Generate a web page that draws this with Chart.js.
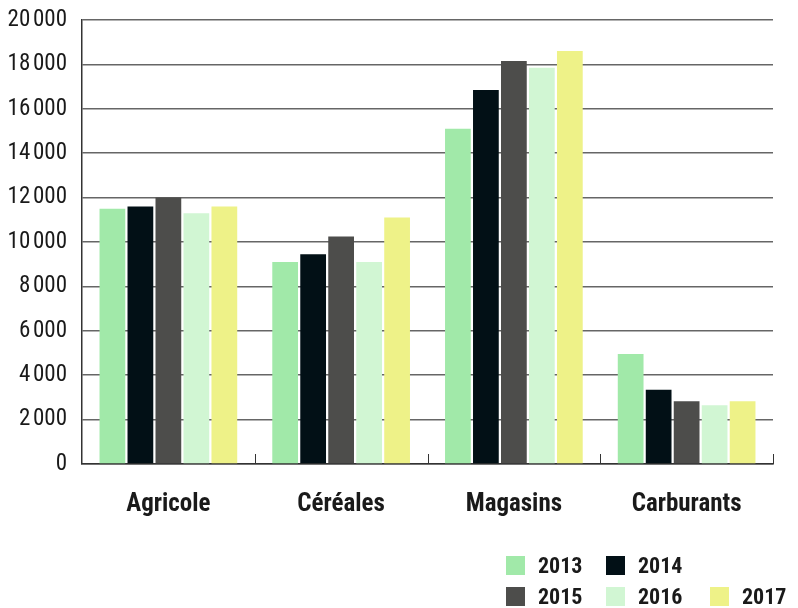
<!DOCTYPE html>
<html>
<head>
<meta charset="utf-8">
<script src="https://cdn.jsdelivr.net/npm/chart.js@4/dist/chart.umd.min.js"></script>
<style>
  html, body { margin: 0; padding: 0; background: #fff; }
  #wrap { position: relative; width: 798px; height: 608px; }
  #legend { position: absolute; left: 506px; top: 556px; width: 292px;
    font-family: "Roboto Condensed", "Liberation Sans Narrow", "DejaVu Sans Condensed", Roboto, sans-serif;
    font-weight: bold; font-size: 22px; color: #1a1a1a; }
  #legend .item { position: absolute; height: 20px; line-height: 20px; white-space: nowrap; }
  #legend .box { display: inline-block; width: 19px; height: 19px; vertical-align: top; margin-right: 13px; }
</style>
</head>
<body>
<div id="wrap">
  <canvas id="myChart" width="798" height="608"></canvas>
  <div id="legend"></div>
</div>
<script>
var FONT = '"Roboto Condensed", "Liberation Sans Narrow", "DejaVu Sans Condensed", Roboto, sans-serif';

var categories = ["Agricole", "Céréales", "Magasins", "Carburants"];
var years = ["2013", "2014", "2015", "2016", "2017"];
var colors = ["#a1e9a9", "#021016", "#4d4d4b", "#d1f6d3", "#eef288"];

var v2013 = [11500, 9100, 15100, 4950];
var v2014 = [11600, 9450, 16850, 3350];
var v2015 = [12000, 10250, 18150, 2830];
var v2016 = [11300, 9100, 17850, 2650];
var v2017 = [11600, 11100, 18600, 2830];
var series = [v2013, v2014, v2015, v2016, v2017];

var yTicks = [0, 2000, 4000, 6000, 8000, 10000, 12000, 14000, 16000, 18000, 20000];

function fmt(n) {
    if (n < 1000) return String(n);
    var s = String(n);
    return s.slice(0, s.length - 3) + "\u202F" + s.slice(s.length - 3);
}

// little ticks pointing up at the category boundaries
var catTicks = {
    id: "catTicks",
    afterDraw: function (chart) {
        var x = chart.scales.x;
        var c = chart.ctx;
        var base = chart.chartArea.bottom;
        var half = (x.getPixelForValue(1) - x.getPixelForValue(0)) / 2;
        c.save();
        c.strokeStyle = "#333";
        c.lineWidth = 1;
        for (var i = 0; i < categories.length; i++) {
            var px = Math.round(x.getPixelForValue(i) + half) + 0.5;
            c.beginPath();
            c.moveTo(px, base);
            c.lineTo(px, base - 10);
            c.stroke();
        }
        c.restore();
    }
};

var ctx = document.getElementById("myChart");
var myChart = new Chart(ctx, {
    type: "bar",
    data: {
        labels: categories,
        datasets: years.map(function (y, i) {
            return {
                label: y,
                data: series[i],
                backgroundColor: colors[i],
                borderWidth: 0,
                barPercentage: 0.92,
                categoryPercentage: 0.81
            };
        })
    },
    options: {
        responsive: false,
        animation: false,
        layout: { padding: { top: 0, right: 25, bottom: 62, left: 0 } },
        plugins: {
            legend: { display: false },
            tooltip: { enabled: false }
        },
        scales: {
            x: {
                grid: { display: false, drawTicks: false },
                border: { display: true, color: "#333", width: 1.5 },
                ticks: {
                    padding: 26,
                    color: "#1a1a1a",
                    font: { family: FONT, size: 25, weight: "bold" }
                }
            },
            y: {
                min: 0,
                max: 20000,
                afterBuildTicks: function (axis) {
                    axis.ticks = yTicks.map(function (v) { return { value: v }; });
                },
                afterFit: function (axis) {
                    axis.width = 82;
                    axis.paddingTop = 20;
                },
                grid: { color: "#666", lineWidth: 1.5, drawTicks: false },
                border: { display: true, color: "#333", width: 1.5 },
                ticks: {
                    padding: 15,
                    color: "#1a1a1a",
                    font: { family: FONT, size: 23 },
                    callback: function (v) { return fmt(v); }
                }
            }
        }
    },
    plugins: [catTicks]
});

// legend: 2 entries on the first row, 3 on the second
var leg = document.getElementById("legend");
var spots = [[0, 0], [100, 0], [0, 31], [100, 31], [204, 31]];
myChart.data.datasets.forEach(function (ds, i) {
    var d = document.createElement("div");
    d.className = "item";
    d.style.left = spots[i][0] + "px";
    d.style.top = spots[i][1] + "px";
    d.innerHTML = '<span class="box" style="background:' + ds.backgroundColor + '"></span>' + ds.label;
    leg.appendChild(d);
});
</script>
</body>
</html>
